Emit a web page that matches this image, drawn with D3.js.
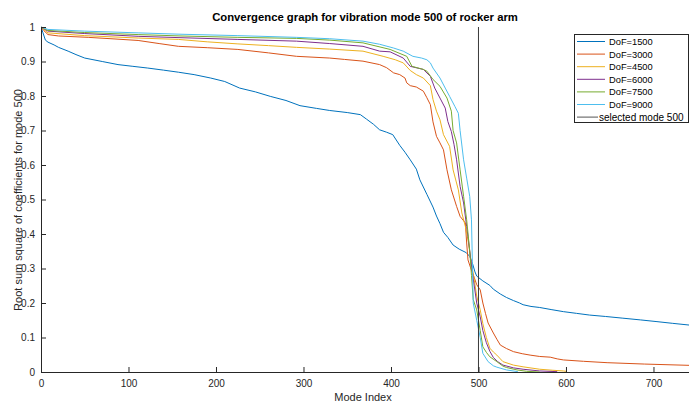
<!DOCTYPE html>
<html><head><meta charset="utf-8">
<script src="https://cdn.jsdelivr.net/npm/d3@7"></script>
<style>
html,body{margin:0;padding:0;background:#fff;}
svg{display:block;font-family:"Liberation Sans",Arial,Helvetica,sans-serif;}
</style></head>
<body>
<svg id="chart" width="689" height="405"></svg>
<script>
const seriesNames = ["DoF=1500","DoF=3000","DoF=4500","DoF=6000","DoF=7500","DoF=9000"];
const seriesColors = ["#0072BD","#D95319","#EDB120","#7E2F8E","#77AC30","#4DBEEE"];
const selectedMode = 500;
const xTicks = [0,100,200,300,400,500,600,700];
const yTicks = [0,0.1,0.2,0.3,0.4,0.5,0.6,0.7,0.8,0.9,1];

const dof1500 = [[0,1.0],[2,0.985],[5,0.962],[8,0.956],[15,0.948],[20,0.941],[31,0.930],[40,0.92],[50,0.910],[70,0.90],[88,0.891],[105,0.886],[122,0.881],[140,0.875],[157,0.869],[175,0.862],[194,0.852],[210,0.842],[227,0.823],[245,0.812],[262,0.799],[280,0.787],[296,0.772],[315,0.764],[330,0.758],[350,0.752],[365,0.746],[372,0.733],[380,0.718],[387,0.702],[395,0.695],[402,0.688],[410,0.657],[416,0.637],[422,0.615],[429,0.588],[433,0.557],[441,0.515],[448,0.478],[452,0.452],[456,0.43],[460,0.405],[465,0.39],[471,0.368],[478,0.356],[486,0.346],[490,0.335],[493,0.316],[496,0.290],[498,0.278],[505,0.264],[513,0.251],[517,0.240],[525,0.226],[532,0.216],[540,0.207],[547,0.200],[551,0.195],[560,0.190],[570,0.187],[583,0.181],[597,0.175],[612,0.170],[627,0.165],[645,0.161],[665,0.156],[685,0.151],[704,0.146],[722,0.141],[745,0.135]];
const dof3000 = [[0,1.0],[3,0.99],[8,0.978],[20,0.974],[54,0.970],[80,0.966],[111,0.961],[135,0.952],[157,0.944],[190,0.940],[225,0.935],[260,0.925],[292,0.915],[330,0.910],[347,0.906],[368,0.901],[387,0.891],[395,0.882],[403,0.867],[410,0.862],[416,0.852],[418,0.838],[422,0.830],[429,0.826],[437,0.814],[441,0.795],[445,0.775],[448,0.725],[452,0.683],[456,0.664],[460,0.644],[464,0.586],[469,0.528],[475,0.480],[479,0.451],[485,0.432],[486.5,0.374],[488,0.325],[491,0.302],[495,0.275],[498,0.253],[502,0.238],[505,0.200],[508,0.170],[511,0.142],[517,0.113],[521,0.095],[525,0.078],[532,0.068],[540,0.059],[550,0.053],[559,0.049],[570,0.045],[582,0.043],[590,0.038],[597,0.035],[620,0.031],[647,0.027],[690,0.023],[745,0.019]];
const dof4500 = [[0,1.0],[3,0.993],[8,0.983],[50,0.975],[111,0.968],[157,0.964],[190,0.957],[225,0.951],[260,0.946],[292,0.941],[330,0.936],[368,0.930],[391,0.915],[405,0.905],[414,0.896],[422,0.874],[429,0.862],[437,0.852],[445,0.830],[448,0.79],[452,0.756],[456,0.731],[460,0.688],[467,0.654],[471,0.586],[477,0.528],[481,0.461],[485,0.422],[488.6,0.374],[491,0.33],[495,0.27],[498,0.22],[502,0.18],[505,0.14],[509,0.10],[513,0.069],[517,0.058],[521,0.049],[525,0.038],[528,0.030],[540,0.020],[551,0.015],[570,0.008],[585,0.005],[597,0.003],[600,0.002]];
const dof6000 = [[0,1.0],[3,0.995],[8,0.988],[50,0.981],[111,0.973],[160,0.969],[225,0.964],[292,0.959],[330,0.952],[368,0.944],[387,0.930],[399,0.928],[414,0.910],[422,0.886],[437,0.877],[445,0.857],[450,0.823],[456,0.794],[462,0.765],[465,0.726],[469,0.697],[472,0.66],[475,0.615],[479,0.538],[483,0.490],[486.5,0.422],[488,0.393],[491,0.33],[494,0.27],[498,0.20],[502,0.16],[505,0.12],[509,0.085],[513,0.060],[517,0.042],[522,0.030],[528,0.020],[540,0.012],[551,0.008],[570,0.003],[590,0.001]];
const dof7500 = [[0,1.0],[3,0.996],[8,0.990],[50,0.984],[111,0.978],[160,0.974],[225,0.970],[292,0.967],[330,0.962],[368,0.954],[399,0.935],[418,0.915],[424,0.886],[437,0.877],[441,0.872],[448,0.848],[456,0.828],[464,0.794],[469,0.756],[471,0.70],[475,0.664],[479,0.586],[483,0.509],[486.5,0.441],[488,0.403],[490,0.35],[492,0.28],[494,0.21],[498,0.18],[502,0.12],[505,0.073],[509,0.057],[513,0.044],[521,0.030],[528,0.017],[532,0.013],[544,0.006],[555,0.002],[570,0.0]];
const dof9000 = [[0,1.0],[3,0.997],[8,0.993],[50,0.988],[111,0.983],[160,0.979],[225,0.975],[292,0.970],[330,0.966],[368,0.959],[387,0.950],[403,0.939],[414,0.930],[425,0.915],[435,0.910],[441,0.905],[445,0.896],[448,0.881],[456,0.852],[462,0.823],[467,0.799],[473,0.770],[477,0.75],[479,0.700],[483,0.615],[486.5,0.562],[490,0.509],[492,0.441],[493,0.32],[494,0.20],[498,0.15],[502,0.10],[505,0.054],[511,0.030],[517,0.018],[521,0.014],[532,0.006],[545,0.001]];
const allSeries = [dof1500,dof3000,dof4500,dof6000,dof7500,dof9000];

const svg = d3.select("#chart");
const W = 689, H = 405;
const m = {left:41, right:0, top:27, bottom:33};
const x = d3.scaleLinear().domain([0,740.6]).range([m.left, W-m.right]);
const y = d3.scaleLinear().domain([0,1]).range([H-m.bottom, m.top]);
const axisColor = "#262626";

svg.append("defs").append("clipPath").attr("id","clip")
  .append("rect").attr("x",m.left).attr("y",m.top-2).attr("width",W-m.left).attr("height",H-m.bottom-m.top+2);

const g = svg.append("g").attr("clip-path","url(#clip)");
const line = d3.line().x(d=>x(d[0])).y(d=>y(d[1]));
allSeries.forEach((s,i)=>{
  g.append("path").attr("d",line(s)).attr("fill","none")
   .attr("stroke",seriesColors[i]).attr("stroke-width",1);
});
g.append("line").attr("x1",x(selectedMode)).attr("x2",x(selectedMode))
  .attr("y1",y(0)).attr("y2",y(1)).attr("stroke","#3a3a3a").attr("stroke-width",1);

// axes
const xAxis = d3.axisBottom(x).tickValues(xTicks).tickSize(-5).tickPadding(8).tickFormat(d3.format("d"));
const gx = svg.append("g").attr("transform",`translate(0,${y(0)})`).call(xAxis);
const yAxis = d3.axisLeft(y).tickValues(yTicks).tickSize(-5).tickPadding(6).tickFormat(d=> d===0?"0":d===1?"1":d3.format(".1f")(d));
const gy = svg.append("g").attr("transform",`translate(${x(0)},0)`).call(yAxis);
[gx,gy].forEach(a=>{
  a.select(".domain").attr("stroke",axisColor);
  a.selectAll(".tick line").attr("stroke",axisColor);
  a.selectAll(".tick text").attr("fill",axisColor).style("font-size","10px").style("font-family","Liberation Sans, Arial, sans-serif");
});

// title & labels
svg.append("text").attr("x",(m.left+W)/2).attr("y",21).attr("text-anchor","middle")
  .style("font-size","11.3px").style("font-weight","bold").attr("fill","#000")
  .text("Convergence graph for vibration mode 500 of rocker arm");
svg.append("text").attr("x",(m.left+W)/2-2).attr("y",401).attr("text-anchor","middle")
  .style("font-size","11px").attr("fill",axisColor).text("Mode Index");
svg.append("text").attr("transform","translate(22,200) rotate(-90)").attr("text-anchor","middle")
  .style("font-size","11px").attr("fill",axisColor)
  .text("Root sum square of coefficients  for mode 500");

// legend
const lg = svg.append("g");
lg.append("rect").attr("x",574.5).attr("y",34.5).attr("width",114).attr("height",88)
  .attr("fill","#fff").attr("stroke",axisColor).attr("stroke-width",1);
const legendNames = seriesNames.concat(["selected mode 500"]);
const legendColors = seriesColors.concat(["#555"]);
legendNames.forEach((n,i)=>{
  const yy = 41.5 + i*12.6;
  const isSel = i===6;
  lg.append("line").attr("x1",577).attr("x2",isSel?598:605).attr("y1",yy).attr("y2",yy)
    .attr("stroke",legendColors[i]).attr("stroke-width",1);
  lg.append("text").attr("x",isSel?599:609).attr("y",yy+3.5).style("font-size",isSel?"10px":"9.3px")
    .attr("fill","#000").text(n);
});
</script>
</body></html>
